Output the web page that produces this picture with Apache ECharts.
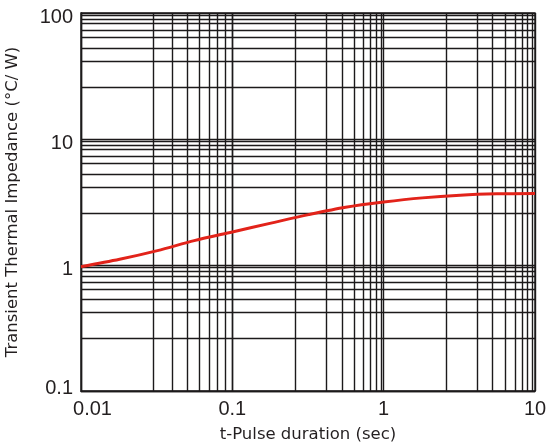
<!DOCTYPE html>
<html>
<head>
<meta charset="utf-8">
<script src="https://cdn.jsdelivr.net/npm/echarts@6/dist/echarts.min.js"></script>
<style>html,body{margin:0;padding:0;background:#fff}#c{width:548px;height:446px}</style>
</head>
<body>
<div id="c"></div>
<script>
// Pulse duration (sec) and transient thermal impedance (°C/W)
var pulseDuration = [0.01, 0.018, 0.032, 0.056, 0.1, 0.18, 0.32, 0.56, 1, 1.8, 3.2, 5.6, 10];
var impedance     = [0.97, 1.11, 1.30, 1.56, 1.83, 2.15, 2.51, 2.87, 3.16, 3.41, 3.58, 3.67, 3.70];

// Tick labels
var xTickLabels = ['0.01', '0.1', '1', '10'];
var yTickLabels = ['0.1', '1', '10', '100'];

// Decade starts and minor grid-line multipliers as drawn in the reference grid
var xDecades = [0.01, 0.1, 1];
var yDecades = [0.1, 1, 10];
var minorGridMultipliers = [2.58, 4.15, 5.25, 6.38, 7.35, 8.24, 8.95, 9.57];

var gridColor = '#1c1a1b';
var gridWidth = 1.4;
var minorX = [], minorY = [];
xDecades.forEach(function (d) { minorGridMultipliers.forEach(function (m) { minorX.push({ xAxis: d * m }); }); });
yDecades.forEach(function (d) { minorGridMultipliers.forEach(function (m) { minorY.push({ yAxis: d * m }); }); });

var font = "'Liberation Sans', Arial, sans-serif";
var titleFont = "'DejaVu Sans', sans-serif";
var chart = echarts.init(document.getElementById('c'));
chart.setOption({
  animation: false,
  backgroundColor: '#fff',
  grid: { left: 81, right: 13, top: 13, bottom: 55, show: true, borderColor: gridColor, borderWidth: gridWidth, containLabel: false, outerBoundsMode: 'none' },
  xAxis: {
    type: 'log', logBase: 10, min: 0.01, max: 10,
    name: 't-Pulse duration (sec)', nameLocation: 'middle', nameGap: 35,
    nameTextStyle: { fontFamily: titleFont, fontSize: 16.5, color: '#231f20' },
    axisLine: { show: true, lineStyle: { color: gridColor, width: gridWidth } },
    axisTick: { show: false },
    minorTick: { show: false },
    splitLine: { show: true, lineStyle: { color: gridColor, width: gridWidth } },
    axisLabel: {
      margin: 8, fontFamily: font, fontSize: 20, color: '#231f20',
      formatter: function (v, i) {
        var t = xTickLabels[i];
        return i === 0 ? '{first|' + t + '}' : t;
      },
      rich: { first: { fontFamily: font, fontSize: 20, color: '#231f20', padding: [0, 0, 0, 23] } }
    }
  },
  yAxis: {
    type: 'log', logBase: 10, min: 0.1, max: 100,
    name: 'Transient Thermal Impedance (°C/ W)', nameLocation: 'middle', nameGap: 60,
    nameTextStyle: { fontFamily: titleFont, fontSize: 16.5, color: '#231f20' },
    axisLine: { show: true, lineStyle: { color: gridColor, width: gridWidth } },
    axisTick: { show: false },
    minorTick: { show: false },
    splitLine: { show: true, lineStyle: { color: gridColor, width: gridWidth } },
    axisLabel: {
      margin: 8, fontFamily: font, fontSize: 20, color: '#231f20',
      formatter: function (v, i) {
        var t = yTickLabels[i];
        return i === 0 ? '{low|' + t + '}' : '{up|' + t + '}';
      },
      rich: {
        low: { fontFamily: font, fontSize: 20, color: '#231f20', padding: [0, 0, 6, 0] },
        up: { fontFamily: font, fontSize: 20, color: '#231f20', padding: [8, 0, 0, 0] }
      }
    }
  },
  series: [
    {
      type: 'line', data: [], silent: true, z: 1,
      markLine: {
        silent: true, symbol: ['none', 'none'], label: { show: false },
        lineStyle: { color: gridColor, width: gridWidth, type: 'solid' },
        emphasis: { disabled: true },
        data: minorX.concat(minorY)
      }
    },
    {
      type: 'line', z: 5, smooth: 0.3, showSymbol: false, symbol: 'none',
      lineStyle: { color: '#e2231a', width: 3 },
      data: pulseDuration.map(function (x, i) { return [x, impedance[i]]; })
    }
  ]
});
</script>
</body>
</html>
